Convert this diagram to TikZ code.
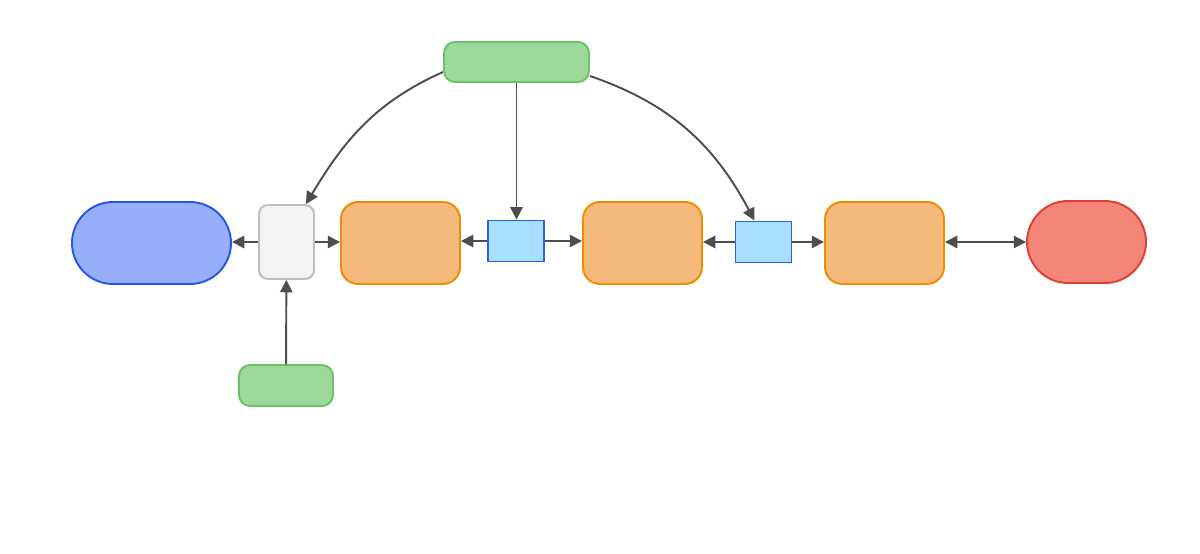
\documentclass[tikz,border=0pt]{standalone}
\usetikzlibrary{arrows.meta}
\definecolor{pillblue}{HTML}{97AEFA}
\definecolor{pillblueline}{HTML}{2456E8}
\definecolor{stepfill}{HTML}{F4B97B}
\definecolor{stepline}{HTML}{F08C00}
\definecolor{endfill}{HTML}{F48579}
\definecolor{endline}{HTML}{E03E32}
\definecolor{srcfill}{HTML}{9CD998}
\definecolor{srcline}{HTML}{6BC16B}
\definecolor{gatefill}{HTML}{A8DEFF}
\definecolor{gateline}{HTML}{2B63E0}
\definecolor{hubfill}{HTML}{F3F3F3}
\definecolor{hubline}{HTML}{BDBDBD}
\definecolor{linkgray}{HTML}{4D4D4D}
\tikzset{
  box/.style={draw,line width=1.1pt,inner sep=0pt},
  startpill/.style={box,draw=pillblueline,fill=pillblue,minimum width=3.18cm,minimum height=1.64cm,rounded corners=0.82cm},
  endpill/.style={box,draw=endline,fill=endfill,minimum width=2.38cm,minimum height=1.64cm,rounded corners=0.82cm},
  stage/.style={box,draw=stepline,fill=stepfill,minimum width=2.38cm,minimum height=1.64cm,rounded corners=0.34cm},
  gate/.style={box,draw=gateline,fill=gatefill,minimum width=1.12cm,minimum height=0.82cm},
  hub/.style={box,draw=hubline,fill=hubfill,minimum width=1.1cm,minimum height=1.48cm,rounded corners=0.18cm},
  source/.style={box,draw=srcline,fill=srcfill,rounded corners=0.22cm},
  link/.style={draw=linkgray,line width=1.1pt,-{Triangle[length=7pt,width=7pt]}},
}
\begin{document}
\begin{tikzpicture}[x=0.02cm,y=-0.02cm]
\useasboundingbox[fill=white](0,0)rectangle(1200,554);
% row of stages
\node[startpill](start)at(151.5,243){};
\node[hub](hub)at(286.5,242){};
\node[stage](stageA)at(400.5,243){};
\node[gate](gateA)at(516,241){};
\node[stage](stageB)at(642.5,243){};
\node[gate](gateB)at(763.5,242){};
\node[stage](stageC)at(884.5,243){};
\node[endpill](finish)at(1086.5,242){};
% sources
\node[source,minimum width=2.9cm,minimum height=0.8cm](top)at(516.5,62){};
\node[source,minimum width=1.88cm,minimum height=0.82cm](bottom)at(286,385.5){};
% links
\draw[link](hub.west)--(start.east|-hub.west);
\draw[link](hub.east)--(stageA.west|-hub.east);
\draw[link](gateA.west)--(stageA.east|-gateA.west);
\draw[link](gateA.east)--(stageB.west|-gateA.east);
\draw[link](gateB.west)--(stageB.east|-gateB.west);
\draw[link](gateB.east)--(stageC.west|-gateB.east);
\draw[link,{Triangle[length=7pt,width=7pt]}-{Triangle[length=7pt,width=7pt]}](stageC.east|-finish.west)--(finish.west);
\draw[link](bottom)--(hub);
\draw[link](top.south)--(top.south|-gateA.north);
\draw[link]([yshift=-0.2cm]top.west)to[out=204,in=59]([xshift=-0.18cm]hub.north east);
\draw[link]([yshift=-0.28cm]top.east)to[out=-19,in=118]([xshift=-0.18cm]gateB.north);
\end{tikzpicture}
\end{document}
